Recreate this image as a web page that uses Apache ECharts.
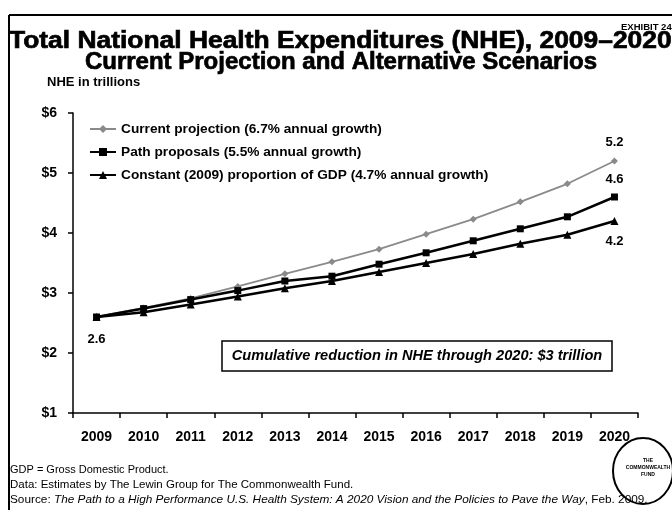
<!DOCTYPE html>
<html>
<head>
<meta charset="utf-8">
<script src="https://cdn.jsdelivr.net/npm/echarts@6/dist/echarts.min.js"></script>
<style>
  html, body { margin: 0; padding: 0; background: #fff; }
  #chart { width: 672px; height: 510px; }
</style>
</head>
<body>
<div id="chart"></div>
<script>
// Years on the category axis
const years = ['2009', '2010', '2011', '2012', '2013', '2014', '2015', '2016', '2017', '2018', '2019', '2020'];

// NHE in trillions of dollars, per scenario
const currentProjection = [2.6, 2.75, 2.91, 3.11, 3.32, 3.52, 3.73, 3.98, 4.23, 4.52, 4.82, 5.2];
const pathProposals     = [2.6, 2.74, 2.89, 3.04, 3.20, 3.28, 3.48, 3.67, 3.87, 4.07, 4.27, 4.6];
const constantShare     = [2.6, 2.68, 2.81, 2.94, 3.08, 3.20, 3.35, 3.50, 3.65, 3.82, 3.97, 4.2];

const seriesNames = [
  'Current projection (6.7% annual growth)',
  'Path proposals (5.5% annual growth)',
  'Constant (2009) proportion of GDP (4.7% annual growth)'
];

// y-axis range and tick labels
const yMin = 1, yMax = 6, yStep = 1;
const yTickLabels = ['$1', '$2', '$3', '$4', '$5', '$6'];

const FONT = '"Liberation Sans", Arial, sans-serif';

// Attach value labels to selected points
function withLabels(values, labelled) {
  return values.map((v, i) => {
    const spec = labelled[i];
    if (!spec) return v;
    return {
      value: v,
      label: {
        show: true,
        position: spec.position,
        distance: spec.distance,
        formatter: String(v),
        fontFamily: FONT,
        fontWeight: 'bold',
        fontSize: 13,
        color: '#000'
      }
    };
  });
}

const last = years.length - 1;

const chart = echarts.init(document.getElementById('chart'), null, { renderer: 'canvas' });

chart.setOption({
  animation: false,
  backgroundColor: '#fff',
  grid: { left: 73, right: 34, top: 113, bottom: 97, containLabel: false },
  legend: {
    orient: 'vertical',
    left: 84,
    top: 117,
    itemWidth: 26,
    itemHeight: 10,
    itemGap: 9,
    textStyle: { fontFamily: FONT, fontWeight: 'bold', fontSize: 13.7, color: '#000' },
    data: seriesNames
  },
  xAxis: {
    type: 'category',
    data: years,
    boundaryGap: true,
    axisLine: { lineStyle: { color: '#000', width: 1.5 } },
    axisTick: { show: true, inside: false, length: 5, alignWithLabel: false, lineStyle: { color: '#000', width: 1.5 } },
    axisLabel: { fontFamily: FONT, fontWeight: 'bold', fontSize: 14, color: '#000', margin: 17, interval: 0 },
    splitLine: { show: false }
  },
  yAxis: {
    type: 'value',
    min: yMin,
    max: yMax,
    interval: yStep,
    axisLine: { show: true, lineStyle: { color: '#000', width: 1.5 } },
    axisTick: { show: true, length: 5, lineStyle: { color: '#000', width: 1.5 } },
    axisLabel: {
      fontFamily: FONT, fontWeight: 'bold', fontSize: 14, color: '#000', margin: 16,
      formatter: v => yTickLabels[Math.round(v - yMin)]
    },
    splitLine: { show: false }
  },
  series: [
    {
      name: seriesNames[0],
      type: 'line',
      data: withLabels(currentProjection, { [last]: { position: 'top', distance: 9 } }),
      symbol: 'diamond',
      symbolSize: 7,
      showAllSymbol: true,
      itemStyle: { color: '#8a8a8a' },
      lineStyle: { color: '#8a8a8a', width: 1.8 },
      z: 3
    },
    {
      name: seriesNames[1],
      type: 'line',
      data: withLabels(pathProposals, { [last]: { position: 'top', distance: 8 } }),
      symbol: 'rect',
      symbolSize: 7,
      showAllSymbol: true,
      itemStyle: { color: '#000' },
      lineStyle: { color: '#000', width: 2.5 },
      z: 4
    },
    {
      name: seriesNames[2],
      type: 'line',
      data: withLabels(constantShare, {
        0: { position: 'bottom', distance: 12 },
        [last]: { position: 'bottom', distance: 10 }
      }),
      symbol: 'triangle',
      symbolSize: 8,
      showAllSymbol: true,
      itemStyle: { color: '#000' },
      lineStyle: { color: '#000', width: 2.5 },
      z: 5
    }
  ],
  graphic: [
    // page frame (top and left rules)
    { type: 'line', shape: { x1: 9, y1: 15, x2: 672, y2: 15 }, style: { stroke: '#000', lineWidth: 2 } },
    { type: 'line', shape: { x1: 9, y1: 15, x2: 9, y2: 510 }, style: { stroke: '#000', lineWidth: 2 } },
    // exhibit number
    { type: 'text', x: 621, y: 27, style: { text: 'EXHIBIT 24', font: 'bold 9.5px ' + FONT, fill: '#000', verticalAlign: 'middle' } },
    // titles (horizontally stretched heavy face)
    {
      type: 'text', x: 9, y: 41, scaleX: 1.1, originX: 0, originY: 0,
      style: { text: 'Total National Health Expenditures (NHE), 2009–2020', font: 'bold 24px ' + FONT, fill: '#000', stroke: '#000', lineWidth: 0.7, verticalAlign: 'middle' }
    },
    {
      type: 'text', x: 341, y: 62,
      style: { text: 'Current Projection and Alternative Scenarios', font: 'bold 24px ' + FONT, fill: '#000', stroke: '#000', lineWidth: 0.7, align: 'center', verticalAlign: 'middle' }
    },
    { type: 'text', left: 47, top: 76, style: { text: 'NHE in trillions', font: 'bold 13px ' + FONT, fill: '#000' } },
    // cumulative reduction note
    { type: 'rect', shape: { x: 222, y: 341, width: 390, height: 30 }, style: { fill: '#fff', stroke: '#000', lineWidth: 1.5 } },
    { type: 'text', x: 417, y: 356, style: { text: 'Cumulative reduction in NHE through 2020: $3 trillion', font: 'italic bold 14.6px ' + FONT, fill: '#000', align: 'center', verticalAlign: 'middle' } },
    // fund logo
    { type: 'ellipse', shape: { cx: 643, cy: 471, rx: 30, ry: 33 }, style: { fill: '#fff', stroke: '#000', lineWidth: 2 } },
    { type: 'text', x: 648, y: 468, style: { text: 'THE\nCOMMONWEALTH\nFUND', font: 'bold 5px ' + FONT, fill: '#000', align: 'center', verticalAlign: 'middle', lineHeight: 7 } },
    // footnotes
    { type: 'text', x: 10, y: 470, style: { text: 'GDP = Gross Domestic Product.', font: '11px ' + FONT, fill: '#000', verticalAlign: 'middle' } },
    { type: 'text', x: 10, y: 485, style: { text: 'Data: Estimates by The Lewin Group for The Commonwealth Fund.', font: '11.5px ' + FONT, fill: '#000', verticalAlign: 'middle' } },
    {
      type: 'text', x: 10, y: 500,
      style: {
        text: '{n|Source: }{i|The Path to a High Performance U.S. Health System: A 2020 Vision and the Policies to Pave the Way}{n|, Feb. 2009.}',
        verticalAlign: 'middle',
        rich: {
          n: { font: '11.8px ' + FONT, fill: '#000' },
          i: { font: 'italic 11.8px ' + FONT, fill: '#000' }
        }
      }
    }
  ]
});
</script>
</body>
</html>
